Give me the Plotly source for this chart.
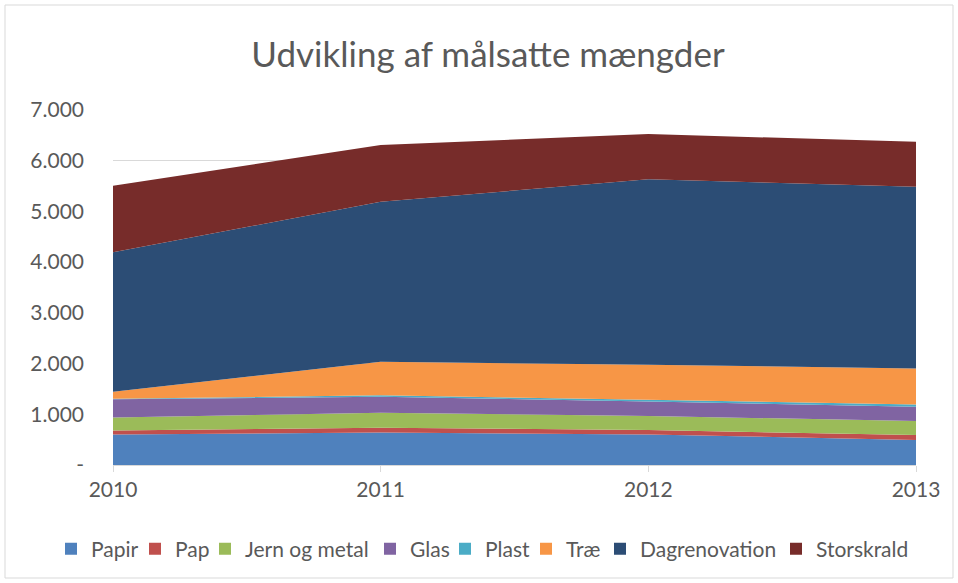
import plotly.graph_objects as go

years = [2010, 2011, 2012, 2013]
year_labels = ["2010", "2011", "2012", "2013"]

papir = [600, 640, 600, 495]
pap = [80, 95, 90, 95]
jern_og_metal = [255, 295, 275, 280]
glas = [360, 315, 285, 280]
plast = [10, 30, 35, 45]
trae = [140, 660, 690, 710]
dagrenovation = [2750, 3155, 3660, 3580]
storskrald = [1310, 1120, 890, 890]

y_tickvals = [0, 1000, 2000, 3000, 4000, 5000, 6000, 7000]
y_ticktext = ["-", "1.000", "2.000", "3.000", "4.000", "5.000", "6.000", "7.000"]

series = [
    ("Papir", papir, "#4F81BD"),
    ("Pap", pap, "#C0504D"),
    ("Jern og metal", jern_og_metal, "#9BBB59"),
    ("Glas", glas, "#8064A2"),
    ("Plast", plast, "#4BACC6"),
    ("Træ", trae, "#F79646"),
    ("Dagrenovation", dagrenovation, "#2C4D75"),
    ("Storskrald", storskrald, "#772C2A"),
]

# x pixel where each legend label text starts (layout only)
legend_text_x = [91, 175, 245, 410, 485, 566, 640, 816]

fig = go.Figure()
for name, vals, col in series:
    fig.add_trace(go.Scatter(
        x=years, y=vals, name=name, mode="lines",
        stackgroup="one", line=dict(width=0, color=col),
        fillcolor=col, showlegend=False,
    ))

font_family = "Lato, 'Open Sans', sans-serif"
legend_layouts = {}
for i, (name, vals, col) in enumerate(series):
    key = "legend" if i == 0 else f"legend{i + 1}"
    fig.add_trace(go.Scatter(
        x=[None], y=[None], name=name, mode="markers",
        marker=dict(symbol="square", size=12, color=col),
        showlegend=True, legend=key,
    ))
    legend_layouts[key] = dict(
        orientation="h", xref="container", yref="container",
        x=(legend_text_x[i] - 40) / 958, xanchor="left",
        y=1 - 549 / 583, yanchor="middle",
        font=dict(family=font_family, size=21, color="#595959"),
        itemwidth=30, bgcolor="rgba(0,0,0,0)", borderwidth=0,
    )

fig.update_layout(
    width=958, height=583,
    margin=dict(l=113, r=42, t=110, b=118, autoexpand=False),
    paper_bgcolor="white", plot_bgcolor="white",
    title=dict(text="Udvikling af målsatte mængder", x=488 / 958, xanchor="center",
               xref="container",
               y=1 - 55 / 583, yanchor="middle",
               font=dict(family=font_family, size=35, color="#595959")),
    font=dict(family=font_family, size=21, color="#595959"),
    showlegend=True,
    xaxis=dict(range=[2010, 2013], tickvals=years, ticktext=year_labels,
               showgrid=False, showline=True, linecolor="#D9D9D9", linewidth=1,
               ticks="outside", ticklen=6, tickcolor="#D9D9D9", automargin=False,
               tickfont=dict(size=21, color="#595959"), zeroline=False),
    yaxis=dict(range=[0, 7000], tickvals=y_tickvals, ticktext=y_ticktext,
               showgrid=True, gridcolor="#D9D9D9", gridwidth=1, automargin=False,
               showline=False, zeroline=False, ticks="", ticklabelstandoff=28,
               tickfont=dict(size=21, color="#595959")),
    **legend_layouts,
)

# outer chart border
fig.add_shape(type="rect", xref="paper", yref="paper",
              x0=(5 - 113) / 803, x1=(953 - 113) / 803,
              y0=-(578 - 465) / 355, y1=(465 - 5) / 355,
              line=dict(color="#D9D9D9", width=1), layer="below")

fig.write_html("out.html", config={"displayModeBar": False},
               post_script="document.body.style.margin='0';document.body.style.overflow='hidden';")
